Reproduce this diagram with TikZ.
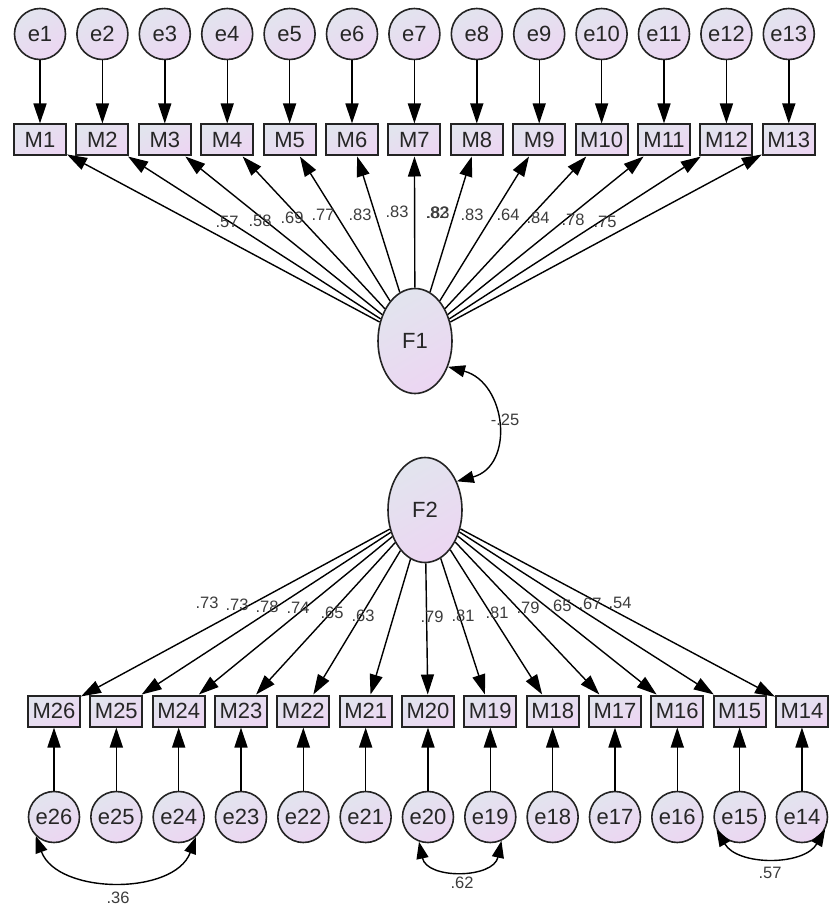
\documentclass[tikz,border=0pt]{standalone}
\usepackage{fontspec}
\setmainfont{Liberation Sans}
\usetikzlibrary{arrows.meta,shapes.geometric}
\definecolor{shadeA}{RGB}{226,228,238}
\definecolor{shadeB}{RGB}{236,214,242}
\definecolor{edgec}{RGB}{35,35,35}
\definecolor{lblc}{RGB}{60,60,60}
\newcommand\nodefont{\fontsize{22}{22}\selectfont}
\newcommand\lblfont{\fontsize{16.5}{16.5}\selectfont}
\begin{document}
\begin{tikzpicture}[x=1pt,y=1pt,
  every node/.style={inner sep=0pt},
  nodefill/.style={top color=shadeA,bottom color=shadeB,shading angle=30},
  errnode/.style={circle,draw=edgec,line width=1.6pt,nodefill,minimum size=51pt,
    font=\nodefont,text=black!85},
  obsnode/.style={rectangle,draw=edgec,line width=2pt,nodefill,minimum width=52pt,
    minimum height=31pt,font=\nodefont,text=black!85},
  latnode/.style={ellipse,draw=edgec,line width=1.6pt,nodefill,minimum width=74pt,
    minimum height=105pt,font=\nodefont,text=black!85},
  link/.style={-{Triangle[length=20pt,width=13pt]},line width=1.4pt,draw=black},
  twoway/.style={{Triangle[length=17pt,width=12pt]}-{Triangle[length=17pt,width=12pt]},
    line width=1.4pt,draw=black},
  loadlbl/.style={font=\lblfont,text=lblc},
]
\useasboundingbox (0,0) rectangle (828,-909);

% factors
\node[latnode] (F1) at (415,-341) {F1};
\node[latnode] (F2) at (425,-510) {F2};

% upper block: items M1..M13 with their errors
\foreach \i in {1,...,13}{
  \pgfmathsetmacro\xx{40+62.4*(\i-1)}
  \node[errnode] (e\i) at (\xx,-34) {e\i};
  \node[obsnode] (M\i) at (\xx,-140) {M\i};
  \draw[link] (e\i) -- (M\i);
  \draw[link] (F1) -- (M\i);
}

% lower block: items M14..M26 with their errors
\foreach \k in {14,...,26}{
  \pgfmathsetmacro\xx{54+62.33*(26-\k)}
  \node[obsnode] (M\k) at (\xx,-711) {M\k};
  \node[errnode] (e\k) at (\xx,-817) {e\k};
  \draw[link] (e\k) -- (M\k);
  \draw[link] (F2) -- (M\k);
}

% loadings on F1
\foreach \v/\px/\py in {.57/227/222,.58/260/221,.69/292/218,.77/323/215,.83/360/215,
  .83/397/212,.82/437/213,.83/438/213,.83/472/215,.64/508/215,.84/538/218,
  .78/573/220,.75/605/222}
  \node[loadlbl] (l\px) at (\px,-\py) {\v};

% loadings on F2
\foreach \v/\px/\py in {.73/207/603,.73/237/605,.78/267/607,.74/298/608,.65/332/613,
  .63/363/616,.79/432/617,.81/463/616,.81/497/613,.79/528/608,.65/560/606,
  .67/590/604,.54/620/603}
  \node[loadlbl] (b\px) at (\px,-\py) {\v};

% factor covariance
\draw[twoway] (F1.-38) to[out=-15,in=15,looseness=1.35] (F2.42);
\node[loadlbl] (cF) at (505,-420) {-.25};

% error covariances
\draw[twoway] (e26.226) to[out=-70,in=-110] (e24.-49);
\node[loadlbl] (c1) at (118,-898) {.36};
\draw[twoway] (e20.250) to[out=-78,in=-102,looseness=1.2] (e19.-65);
\node[loadlbl] (c2) at (462,-883) {.62};
\draw[twoway] (e15.208) to[out=-60,in=-120] (e14.-28);
\node[loadlbl] (c3) at (770,-873) {.57};
\end{tikzpicture}
\end{document}
